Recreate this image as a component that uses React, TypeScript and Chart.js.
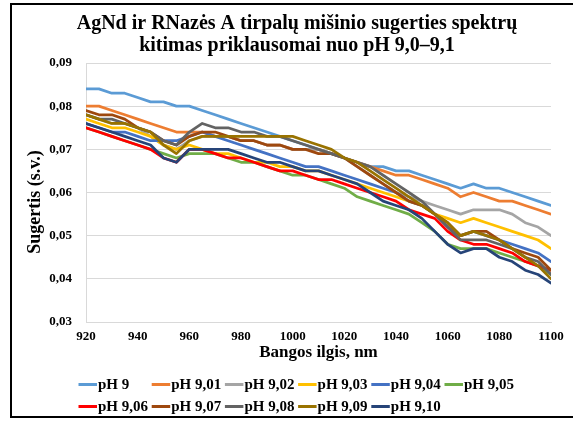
import React, { useEffect, useRef } from 'react';
import { Chart, registerables } from 'chart.js';

Chart.register(...registerables);

const titleLines = ['AgNd ir RNazės A tirpalų mišinio sugerties spektrų', 'kitimas priklausomai nuo pH 9,0–9,1'];
const yAxisTitle = 'Sugertis (s.v.)';
const xAxisTitle = 'Bangos ilgis, nm';
const yTickLabels = ['0,03', '0,04', '0,05', '0,06', '0,07', '0,08', '0,09'];

const wavelengths = [920, 925, 930, 935, 940, 945, 950, 955, 960, 965, 970, 975, 980, 985, 990, 995, 1000, 1005, 1010, 1015, 1020, 1025, 1030, 1035, 1040, 1045, 1050, 1055, 1060, 1065, 1070, 1075, 1080, 1085, 1090, 1095, 1100];

const seriesLabels = ['pH 9', 'pH 9,01', 'pH 9,02', 'pH 9,03', 'pH 9,04', 'pH 9,05', 'pH 9,06', 'pH 9,07', 'pH 9,08', 'pH 9,09', 'pH 9,10'];
const seriesColors = ['#5B9BD5', '#ED7D31', '#A5A5A5', '#FFC000', '#4472C4', '#70AD47', '#FF0000', '#9E480E', '#636363', '#997300', '#264478'];

const ph900 = [0.084, 0.084, 0.083, 0.083, 0.082, 0.081, 0.081, 0.080, 0.080, 0.079, 0.078, 0.077, 0.076, 0.075, 0.074, 0.073, 0.072, 0.071, 0.070, 0.069, 0.068, 0.067, 0.066, 0.066, 0.065, 0.065, 0.064, 0.063, 0.062, 0.061, 0.062, 0.061, 0.061, 0.060, 0.059, 0.058, 0.057];
const ph901 = [0.080, 0.080, 0.079, 0.078, 0.077, 0.076, 0.075, 0.074, 0.074, 0.074, 0.073, 0.073, 0.072, 0.072, 0.071, 0.071, 0.070, 0.070, 0.070, 0.069, 0.068, 0.067, 0.066, 0.065, 0.064, 0.064, 0.063, 0.062, 0.061, 0.059, 0.060, 0.059, 0.058, 0.058, 0.057, 0.056, 0.055];
const ph902 = [0.078, 0.077, 0.076, 0.076, 0.075, 0.073, 0.071, 0.070, 0.072, 0.073, 0.073, 0.073, 0.072, 0.072, 0.071, 0.071, 0.070, 0.070, 0.070, 0.069, 0.068, 0.066, 0.064, 0.062, 0.060, 0.059, 0.058, 0.057, 0.056, 0.055, 0.056, 0.056, 0.056, 0.055, 0.053, 0.052, 0.050];
const ph903 = [0.077, 0.076, 0.075, 0.075, 0.074, 0.073, 0.071, 0.070, 0.071, 0.070, 0.069, 0.069, 0.068, 0.067, 0.067, 0.066, 0.066, 0.065, 0.065, 0.064, 0.063, 0.062, 0.061, 0.060, 0.059, 0.058, 0.057, 0.055, 0.054, 0.053, 0.054, 0.053, 0.052, 0.051, 0.050, 0.049, 0.047];
const ph904 = [0.076, 0.075, 0.074, 0.074, 0.073, 0.072, 0.072, 0.072, 0.073, 0.074, 0.073, 0.072, 0.071, 0.070, 0.069, 0.068, 0.067, 0.066, 0.066, 0.065, 0.064, 0.063, 0.062, 0.061, 0.060, 0.058, 0.057, 0.055, 0.052, 0.050, 0.051, 0.050, 0.049, 0.048, 0.047, 0.046, 0.044];
const ph905 = [0.075, 0.074, 0.073, 0.072, 0.071, 0.070, 0.069, 0.068, 0.069, 0.069, 0.069, 0.068, 0.067, 0.067, 0.066, 0.065, 0.064, 0.064, 0.063, 0.062, 0.061, 0.059, 0.058, 0.057, 0.056, 0.055, 0.053, 0.051, 0.048, 0.047, 0.047, 0.047, 0.046, 0.045, 0.044, 0.043, 0.041];
const ph906 = [0.075, 0.074, 0.073, 0.072, 0.071, 0.070, 0.068, 0.067, 0.070, 0.070, 0.069, 0.068, 0.068, 0.067, 0.066, 0.065, 0.065, 0.064, 0.063, 0.063, 0.062, 0.061, 0.060, 0.059, 0.058, 0.056, 0.055, 0.054, 0.051, 0.049, 0.048, 0.048, 0.047, 0.046, 0.044, 0.043, 0.042];
const ph907 = [0.079, 0.078, 0.078, 0.077, 0.075, 0.074, 0.072, 0.071, 0.073, 0.074, 0.074, 0.073, 0.072, 0.072, 0.071, 0.071, 0.070, 0.070, 0.069, 0.069, 0.068, 0.066, 0.064, 0.062, 0.060, 0.058, 0.057, 0.055, 0.053, 0.050, 0.051, 0.051, 0.049, 0.047, 0.046, 0.045, 0.042];
const ph908 = [0.078, 0.077, 0.077, 0.076, 0.075, 0.074, 0.072, 0.071, 0.074, 0.076, 0.075, 0.075, 0.074, 0.074, 0.073, 0.073, 0.072, 0.071, 0.070, 0.069, 0.068, 0.067, 0.066, 0.064, 0.062, 0.060, 0.058, 0.055, 0.052, 0.049, 0.049, 0.049, 0.048, 0.047, 0.045, 0.044, 0.041];
const ph909 = [0.078, 0.077, 0.076, 0.076, 0.075, 0.074, 0.071, 0.069, 0.072, 0.073, 0.073, 0.073, 0.073, 0.073, 0.073, 0.073, 0.073, 0.072, 0.071, 0.070, 0.068, 0.067, 0.065, 0.063, 0.061, 0.059, 0.057, 0.055, 0.053, 0.050, 0.051, 0.050, 0.049, 0.047, 0.045, 0.043, 0.040];
const ph910 = [0.076, 0.075, 0.074, 0.073, 0.072, 0.071, 0.068, 0.067, 0.070, 0.070, 0.070, 0.070, 0.069, 0.068, 0.067, 0.067, 0.066, 0.065, 0.065, 0.064, 0.063, 0.062, 0.060, 0.058, 0.057, 0.056, 0.054, 0.051, 0.048, 0.046, 0.047, 0.047, 0.045, 0.044, 0.042, 0.041, 0.039];

const seriesValues = [ph900, ph901, ph902, ph903, ph904, ph905, ph906, ph907, ph908, ph909, ph910];

const FONT = "'Liberation Serif', 'Times New Roman', serif";

const framePlugin = {
  id: 'frameAndTexts',
  afterDraw(chart: any) {
    const ctx = chart.ctx;
    ctx.save();
    ctx.strokeStyle = '#000';
    ctx.lineWidth = 2;
    ctx.strokeRect(11, 4, 620, 413);
    ctx.fillStyle = '#000';
    ctx.font = `bold 20px ${FONT}`;
    ctx.textAlign = 'center';
    ctx.textBaseline = 'middle';
    ctx.fillText(titleLines[0], 297, 24);
    ctx.fillText(titleLines[1], 297, 46);
    ctx.save();
    ctx.translate(35, 202);
    ctx.rotate(-Math.PI / 2);
    ctx.font = `bold 18px ${FONT}`;
    ctx.fillText(yAxisTitle, 0, 0);
    ctx.restore();
    const x0 = 78.5;
    const colW = 73.2;
    const rowsY = [384.5, 406.5];
    ctx.font = `bold 15px ${FONT}`;
    ctx.textAlign = 'left';
    chart.data.datasets.forEach((ds: any, i: number) => {
      const r = Math.floor(i / 6);
      const c = i % 6;
      const x = x0 + c * colW;
      const y = rowsY[r];
      ctx.strokeStyle = ds.borderColor;
      ctx.lineWidth = 3;
      ctx.beginPath();
      ctx.moveTo(x, y);
      ctx.lineTo(x + 18.5, y);
      ctx.stroke();
      ctx.fillStyle = '#000';
      ctx.fillText(ds.label, x + 19.5, y + 0.5);
    });
    ctx.restore();
  },
};

export default function App() {
  const ref = useRef<HTMLCanvasElement | null>(null);
  useEffect(() => {
    if (!ref.current) return;
    const datasets = seriesValues.map((vals, i) => ({
      label: seriesLabels[i],
      data: wavelengths.map((w, j) => ({ x: w, y: vals[j] })),
      borderColor: seriesColors[i],
      backgroundColor: seriesColors[i],
      borderWidth: 2.75,
      pointRadius: 0,
      tension: 0,
      borderJoinStyle: 'round' as const,
      borderCapStyle: 'round' as const,
      order: seriesValues.length - i,
    }));
    const chart = new Chart(ref.current, {
      type: 'line',
      data: { datasets },
      options: {
        responsive: false,
        animation: false,
        layout: { padding: { top: 63, right: 22, bottom: 56, left: 0 } },
        plugins: {
          legend: { display: false },
          title: { display: false },
          tooltip: { enabled: false },
        },
        scales: {
          x: {
            type: 'linear',
            min: 920,
            max: 1100,
            afterFit: (scale: any) => { scale.height = 43; },
            grid: { display: false, drawTicks: false },
            border: { display: true, color: '#D9D9D9', width: 1 },
            ticks: {
              stepSize: 20,
              padding: 7,
              color: '#000',
              font: { family: FONT, size: 13, weight: 'bold' },
              callback: (v: any) => String(v),
            },
            title: {
              display: true,
              text: xAxisTitle,
              color: '#000',
              font: { family: FONT, size: 17, weight: 'bold' },
              padding: { top: 0, bottom: 2 },
            },
          },
          y: {
            min: 0.03,
            max: 0.09,
            afterFit: (scale: any) => { scale.width = 86; },
            grid: { color: '#D9D9D9', drawTicks: false, lineWidth: 1 },
            border: { display: true, color: '#D9D9D9', width: 1 },
            ticks: {
              stepSize: 0.01,
              padding: 14,
              color: '#000',
              font: { family: FONT, size: 13, weight: 'bold' },
              callback: (v: any) => yTickLabels[Math.round((Number(v) - 0.03) / 0.01)],
            },
          },
        },
      },
      plugins: [framePlugin],
    });
    return () => chart.destroy();
  }, []);
  return (
    <div style={{ position: 'fixed', left: 0, top: 0, width: 573, height: 421, background: '#fff' }}>
      <canvas ref={ref} width={573} height={421} style={{ display: 'block', width: 573, height: 421 }} />
    </div>
  );
}
